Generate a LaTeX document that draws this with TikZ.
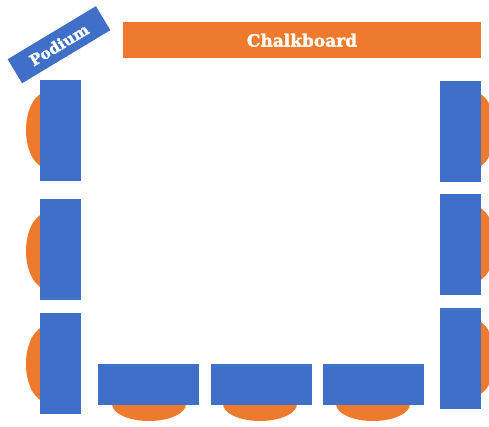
\documentclass[tikz,border=0pt]{standalone}
\usepackage{fontspec}
\newfontfamily\slabfont[FakeBold=1.6]{DejaVu Serif Bold}
\definecolor{deskblue}{HTML}{3F6FC6}
\definecolor{chairorange}{HTML}{EE7B2D}
\begin{document}
\begin{tikzpicture}[x=1pt,y=-1pt,
	desk/.style={fill=deskblue,draw=none},
	chair/.style={fill=chairorange,draw=none},
	roomtext/.style={text=white,font=\slabfont\fontsize{17}{18}\selectfont,inner sep=0pt}]
	\useasboundingbox (0,0) rectangle (489,427);
	\clip (0,0) rectangle (489,427);
	% chairs
	\foreach \y in {130,251,364} \draw[chair] (47,\y) ellipse (21 and 38);
	\foreach \y in {130,244,358} \draw[chair] (474,\y) ellipse (21 and 38);
	\foreach \x in {149,260,373} \draw[chair] (\x,404) ellipse (37 and 17);
	% desks
	\foreach \y in {80,199,313} \draw[desk] (40,\y) rectangle +(41,101);
	\foreach \y in {81,194,308} \draw[desk] (440,\y) rectangle +(41,101);
	\foreach \x in {98,211,323} \draw[desk] (\x,364) rectangle +(100.5,40.5);
	% front of the room
	\node[chair,roomtext,minimum width=358pt,minimum height=36pt] (chalkboard) at (302,40.3) {Chalkboard};
	\node[desk,roomtext,font=\slabfont\fontsize{15.5}{16}\selectfont,rotate=31,minimum width=103pt,minimum height=28pt] (podium) at (59,44.7) {Podium};
\end{tikzpicture}
\end{document}
